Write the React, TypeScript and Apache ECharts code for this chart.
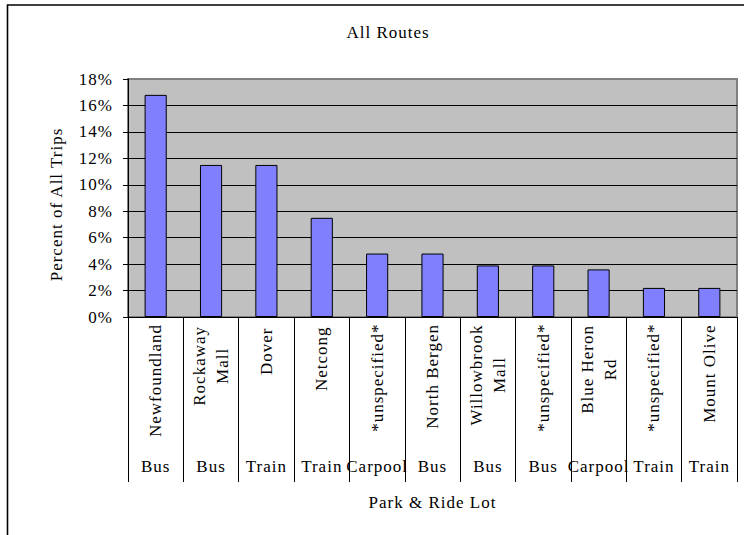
import React, { useEffect, useRef } from 'react';
import * as echarts from 'echarts';

const lots = [
  'Newfoundland',
  'Rockaway\nMall',
  'Dover',
  'Netcong',
  '*unspecified*',
  'North Bergen',
  'Willowbrook\nMall',
  '*unspecified*',
  'Blue Heron\nRd',
  '*unspecified*',
  'Mount Olive',
];
const modes = ['Bus', 'Bus', 'Train', 'Train', 'Carpool', 'Bus', 'Bus', 'Bus', 'Carpool', 'Train', 'Train'];
const shares = [16.8, 11.5, 11.5, 7.5, 4.8, 4.8, 3.9, 3.9, 3.6, 2.2, 2.2];
const yMin = 0;
const yMax = 18;
const yStep = 2;

const FONT = "'Liberation Serif', 'Times New Roman', serif";
const FS = 17;

export default function App() {
  const ref = useRef<HTMLDivElement>(null);
  useEffect(() => {
    const chart = echarts.init(ref.current!, null, { renderer: 'svg' });
    chart.setOption({
      animation: false,
      backgroundColor: '#ffffff',
      textStyle: { fontFamily: FONT, color: '#000' },
      title: {
        text: 'All Routes',
        left: 383,
        top: 19,
        textAlign: 'center',
        textStyle: { fontFamily: FONT, fontSize: FS, fontWeight: 'normal', color: '#000' },
      },
      graphic: [
        {
          type: 'rect',
          shape: { x: 7.5, y: 5, width: 800, height: 600 },
          style: { fill: 'none', stroke: '#000', lineWidth: 1.6 },
          silent: true,
        },
      ],
      grid: {
        left: 128,
        right: 7,
        top: 79,
        bottom: 218,
        show: true,
        backgroundColor: '#C0C0C0',
        borderColor: '#808080',
        borderWidth: 2,
        containLabel: false,
        outerBoundsMode: 'none',
      },
      xAxis: [
        {
          type: 'category',
          position: 'bottom',
          data: lots,
          boundaryGap: true,
          axisLine: { show: true, lineStyle: { color: '#000', width: 1 } },
          axisTick: { show: true, interval: 0, length: 165, lineStyle: { color: '#000', width: 1 } },
          axisLabel: {
            interval: 0,
            rotate: 90,
            margin: 13,
            fontFamily: FONT,
            fontSize: FS,
            color: '#000',
            formatter: (v: string) => v.split('\n').map((l) => `{c|${l}}`).join('\n'),
            rich: {
              c: { align: 'center', fontFamily: FONT, fontSize: FS, color: '#000', lineHeight: 23 },
            },
          },
          splitLine: { show: false },
        },
        {
          type: 'category',
          position: 'bottom',
          data: modes,
          boundaryGap: true,
          axisLine: { show: false },
          axisTick: { show: false },
          axisLabel: { interval: 0, margin: 141, fontFamily: FONT, fontSize: FS, color: '#000' },
          splitLine: { show: false },
          name: 'Park & Ride Lot',
          nameLocation: 'middle',
          nameGap: 177,
          nameMoveOverlap: false,
          nameTextStyle: { fontFamily: FONT, fontSize: FS, color: '#000' },
        },
      ],
      yAxis: {
        type: 'value',
        min: yMin,
        max: yMax,
        interval: yStep,
        name: 'Percent of All Trips',
        nameLocation: 'middle',
        nameGap: 63,
        nameMoveOverlap: false,
        nameTextStyle: { fontFamily: FONT, fontSize: FS, color: '#000', padding: [0, 13, 0, 0] },
        axisLine: { show: true, lineStyle: { color: '#000', width: 1 } },
        axisTick: { show: true, inside: false, length: 5, lineStyle: { color: '#000', width: 1 } },
        axisLabel: { margin: 15, fontFamily: FONT, fontSize: FS, color: '#000', formatter: '{value}%' },
        splitLine: { show: true, showMinLine: false, showMaxLine: false, lineStyle: { color: '#000', width: 1 } },
      },
      series: [
        {
          type: 'bar',
          xAxisIndex: 0,
          data: shares,
          barWidth: '40%',
          itemStyle: { color: '#8080FF', borderColor: '#000', borderWidth: 1 },
          silent: true,
        },
      ],
    });
    return () => chart.dispose();
  }, []);
  return (
    <>
      <style>{`.chart-root svg text { letter-spacing: 1px; }`}</style>
      <div
        ref={ref}
        className="chart-root"
        style={{ position: 'fixed', left: 0, top: 0, width: 744, height: 535, background: '#fff' }}
      />
    </>
  );
}
